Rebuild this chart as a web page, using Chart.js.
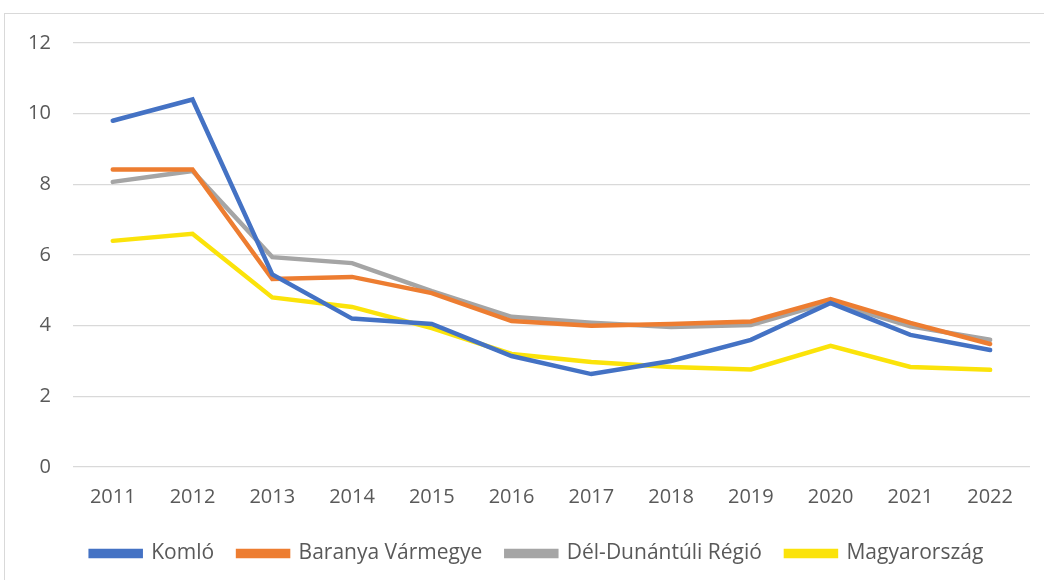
<!DOCTYPE html>
<html><head><meta charset="utf-8">
<script src="https://cdn.jsdelivr.net/npm/chart.js@4/dist/chart.umd.min.js"></script>
<style>
html,body{margin:0;padding:0;background:#fff;overflow:hidden}
#box{position:absolute;left:4px;top:13px;width:1050px;height:580px;border:1px solid #d9d9d9;box-sizing:border-box}
#wrap{position:absolute;left:5px;top:9px;width:1039px;height:571px}
</style></head><body>
<div id="box"></div>
<div id="wrap"><canvas id="c"></canvas></div>
<script>
const years = ['2011','2012','2013','2014','2015','2016','2017','2018','2019','2020','2021','2022'];
const komlo = [9.8,10.4,5.45,4.2,4.05,3.14,2.63,3.0,3.6,4.64,3.74,3.31];
const baranya = [8.42,8.42,5.32,5.38,4.92,4.13,4.0,4.05,4.12,4.75,4.08,3.48];
const delDunantul = [8.07,8.38,5.94,5.77,4.98,4.25,4.08,3.96,4.02,4.67,3.98,3.6];
const magyarorszag = [6.4,6.6,4.8,4.53,3.93,3.2,2.97,2.83,2.76,3.43,2.83,2.75];
const seriesNames = ['Komló','Baranya Vármegye','Dél-Dunántúli Régió','Magyarország'];
const colors = ['#4472C4','#ED7D31','#A5A5A5','#FBE30A'];
const seriesData = [komlo, baranya, delDunantul, magyarorszag];

Chart.defaults.font.family = "'Open Sans','Liberation Sans',sans-serif";
Chart.defaults.font.size = 20;
Chart.defaults.color = '#595959';

const shiftLegend = {
  id: 'shiftLegend',
  afterLayout(chart) { chart.legend.left += 19; chart.legend.right += 19; }
};

new Chart(document.getElementById('c'), {
  type: 'line',
  data: {
    labels: years,
    datasets: seriesNames.map((n,i)=>({
      label: n, data: seriesData[i], borderColor: colors[i], backgroundColor: colors[i],
      borderWidth: 4.5, pointRadius: 0, tension: 0, borderCapStyle: 'round', borderJoinStyle: 'miter'
    }))
  },
  plugins: [shiftLegend],
  options: {
    responsive: true, maintainAspectRatio: false, animation: false,
    layout: { padding: { left: 1, right: 14, top: 14, bottom: 6 } },
    plugins: {
      legend: { position: 'bottom', labels: { boxWidth: 50, boxHeight: 5, padding: 24, color: '#595959', font: { size: 21 } } },
      tooltip: { enabled: false }
    },
    scales: {
      x: { offset: true, grid: { display: false }, border: { display: false }, ticks: { padding: 10 } },
      y: { min: 0, max: 12, ticks: { stepSize: 2, padding: 22 }, grid: { color: '#d9d9d9', lineWidth: 1.3, drawTicks: false }, border: { display: false } }
    }
  }
});
</script>
</body></html>
